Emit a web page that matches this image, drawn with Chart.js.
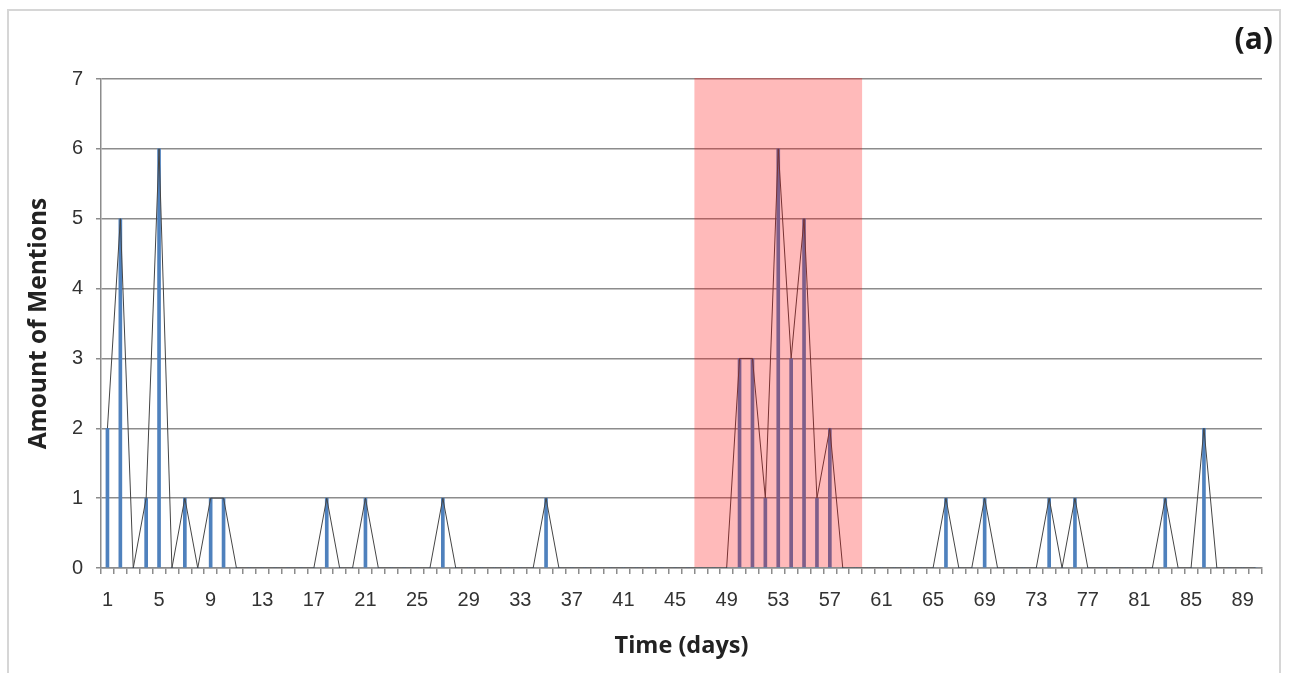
<!DOCTYPE html>
<html>
<head>
<meta charset="utf-8">
<script src="https://cdn.jsdelivr.net/npm/chart.js@4.4.1/dist/chart.umd.min.js"></script>
<style>
  html, body { margin: 0; padding: 0; background: #fff; }
  #wrap { width: 1289px; height: 673px; position: relative; }
</style>
</head>
<body>
<div id="wrap"><canvas id="mentions"></canvas></div>
<script>
// dias 1..90
const days = [];
for (let d = 1; d <= 90; d++) days.push(String(d));

// menções por dia
const mentions = [
  2, 5, 0, 1, 6, 0, 1, 0, 1, 1,   // 1-10
  0, 0, 0, 0, 0, 0, 0, 1, 0, 0,   // 11-20
  1, 0, 0, 0, 0, 0, 1, 0, 0, 0,   // 21-30
  0, 0, 0, 0, 1, 0, 0, 0, 0, 0,   // 31-40
  0, 0, 0, 0, 0, 0, 0, 0, 0, 3,   // 41-50
  3, 1, 6, 3, 5, 1, 2, 0, 0, 0,   // 51-60
  0, 0, 0, 0, 0, 1, 0, 0, 1, 0,   // 61-70
  0, 0, 0, 1, 0, 1, 0, 0, 0, 0,   // 71-80
  0, 0, 1, 0, 0, 2, 0, 0, 0, 0    // 81-90
];

const yTicks = [0, 1, 2, 3, 4, 5, 6, 7];

// período destacado (dias)
const highlightDays = [47, 59];

const highlightPlugin = {
  id: 'highlight',
  beforeDraw(chart) {
    const ctx = chart.ctx;
    ctx.save();
    ctx.fillStyle = '#fff';
    ctx.fillRect(0, 0, chart.width, chart.height);
    ctx.strokeStyle = '#d6d6d6';
    ctx.lineWidth = 2;
    ctx.beginPath();
    ctx.moveTo(8, chart.height + 5);
    ctx.lineTo(8, 10);
    ctx.lineTo(1280, 10);
    ctx.lineTo(1280, chart.height + 5);
    ctx.stroke();
    ctx.restore();
  },
  afterDatasetsDraw(chart) {
    const x = chart.scales.x, y = chart.scales.y;
    const half = (x.getPixelForValue(1) - x.getPixelForValue(0)) / 2;
    const left = x.getPixelForValue(highlightDays[0] - 1) - half;
    const right = x.getPixelForValue(highlightDays[1] - 1) + half;
    const top = y.getPixelForValue(yTicks[yTicks.length - 1]);
    const bottom = y.getPixelForValue(0);
    const ctx = chart.ctx;
    ctx.save();
    ctx.fillStyle = 'rgba(255, 0, 0, 0.27)';
    ctx.fillRect(left, top - 1, right - left, bottom - top);
    ctx.restore();
  },
  afterDraw(chart) {
    const ctx = chart.ctx;
    ctx.save();
    ctx.font = 'bold 30px "Open Sans"';
    ctx.fillStyle = '#1a1a1a';
    ctx.textAlign = 'right';
    ctx.textBaseline = 'middle';
    ctx.fillText('(a)', 1273, 40);
    ctx.restore();
  }
};

const ctx = document.getElementById('mentions');
new Chart(ctx, {
  data: {
    labels: days,
    datasets: [
      {
        type: 'line',
        data: mentions,
        borderColor: '#454545',
        borderWidth: 1,
        pointRadius: 0,
        tension: 0,
        order: 1
      },
      {
        type: 'bar',
        data: mentions,
        backgroundColor: '#4f81bd',
        barThickness: 3,
        order: 2
      }
    ]
  },
  options: {
    responsive: true,
    maintainAspectRatio: false,
    animation: false,
    layout: { padding: { left: 20, right: 27, top: 79, bottom: 0 } },
    plugins: {
      legend: { display: false },
      tooltip: { enabled: false }
    },
    scales: {
      x: {
        offset: true,
        grid: {
          offset: true,
          drawOnChartArea: false,
          drawTicks: true,
          tickLength: 6,
          color: '#8c8c8c',
          lineWidth: 1.5
        },
        border: { display: true, color: '#8c8c8c', width: 1.5 },
        ticks: {
          autoSkip: false,
          maxRotation: 0,
          padding: 14,
          color: '#333',
          font: { family: 'Liberation Sans', size: 20 },
          callback: (val, i) => (i % 4 === 0 ? days[i] : '')
        },
        title: {
          display: true,
          text: 'Time (days)',
          color: '#222',
          font: { family: 'Open Sans', size: 23.5, weight: 'bold' },
          padding: { top: 0, bottom: 13 }
        },
        afterFit: (scale) => { scale.height = 105; }
      },
      y: {
        min: 0,
        max: 7,
        afterBuildTicks: (scale) => { scale.ticks = yTicks.map(v => ({ value: v })); },
        grid: {
          color: '#8c8c8c',
          lineWidth: 1.5,
          tickLength: 5
        },
        border: { display: true, color: '#8c8c8c', width: 1.5 },
        ticks: {
          padding: 13,
          color: '#333',
          font: { family: 'Liberation Sans', size: 20 }
        },
        title: {
          display: true,
          text: 'Amount of Mentions',
          color: '#222',
          font: { family: 'Open Sans', size: 24.5, weight: 'bold' },
          padding: { top: 4, bottom: 0 }
        },
        afterFit: (scale) => { scale.width = 81; }
      }
    }
  },
  plugins: [highlightPlugin]
});
</script>
</body>
</html>
